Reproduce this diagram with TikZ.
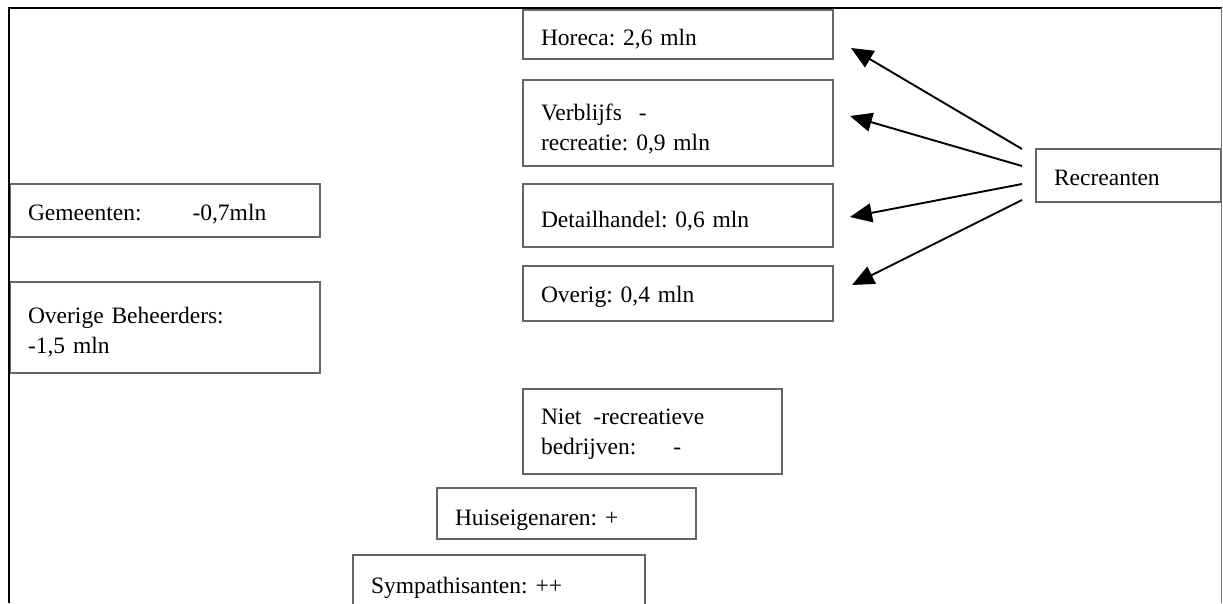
\documentclass[tikz,border=0pt]{standalone}
\usepackage{fontspec}
\setmainfont{Liberation Serif}
\usetikzlibrary{arrows.meta}
\frenchspacing
\begin{document}
\begin{tikzpicture}[x=1pt,y=-1pt,
  bx/.style={draw=black!60, line width=1.1pt, rectangle, anchor=north west,
    inner xsep=18pt, inner ysep=0pt, outer sep=0pt, align=left,
    font=\fontsize{23.5}{30}\selectfont\frenchspacing},
  arr/.style={line width=1.9pt, -{Triangle[length=22pt,width=19pt]}},
  frameline/.style={line width=2pt, black}]
\useasboundingbox (0,0) rectangle (1223,603);
\fill[white] (0,0) rectangle (1223,603);

\node[bx, text width=274pt, text height=36pt, text depth=17pt] (gem) at (10,184) {Gemeenten:\hspace{51pt}-0,7mln};
\node[bx, text width=274pt, text height=41pt, text depth=50pt] (ovb) at (10,282) {Overige Beheerders:\\-1,5 mln};
\node[bx, text width=274pt, text height=35pt, text depth=14pt] (hor) at (523,10) {Horeca: 2,6 mln};
\node[bx, text width=274pt, text height=40pt, text depth=46pt] (ver) at (523,80) {Verblijfs\hspace{17pt}-\\recreatie: 0,9 mln};
\node[bx, text width=274pt, text height=43pt, text depth=20pt] (det) at (523,184) {Detailhandel: 0,6 mln};
\node[bx, text width=274pt, text height=36pt, text depth=19pt] (ove) at (523,266) {Overig: 0,4 mln};
\node[bx, text width=149pt, text height=36pt, text depth=17pt] (rec) at (1036,149) {Recreanten};
\node[bx, text width=223pt, text height=35pt, text depth=50pt] (niet) at (523,389) {Niet\hspace{12pt}-recreatieve\\bedrijven:\hspace{37pt}-};
\node[bx, text width=223pt, text height=37pt, text depth=14pt] (huis) at (437,488) {Huiseigenaren: +};
\node[bx, text width=256pt, text height=38pt, text depth=40pt] (symp) at (353,555) {Sympathisanten: ++};

\coordinate (s1) at (1022,149); \coordinate (t1) at (851,48);
\coordinate (s2) at (1022,166); \coordinate (t2) at (850,116);
\coordinate (s3) at (1022,184); \coordinate (t3) at (850,217);
\coordinate (s4) at (1022,200); \coordinate (t4) at (852,285);
\draw[arr] (s1) -- (t1);
\draw[arr] (s2) -- (t2);
\draw[arr] (s3) -- (t3);
\draw[arr] (s4) -- (t4);

\coordinate (fbl) at (9,603); \coordinate (ftl) at (9,8);
\coordinate (ftr) at (1221.5,8); \coordinate (fbr) at (1221.5,603);
\draw[frameline] (fbl) -- (ftl) -- (ftr);
\draw[line width=1.3pt, black!55] (ftr) -- (fbr);
\end{tikzpicture}
\end{document}
